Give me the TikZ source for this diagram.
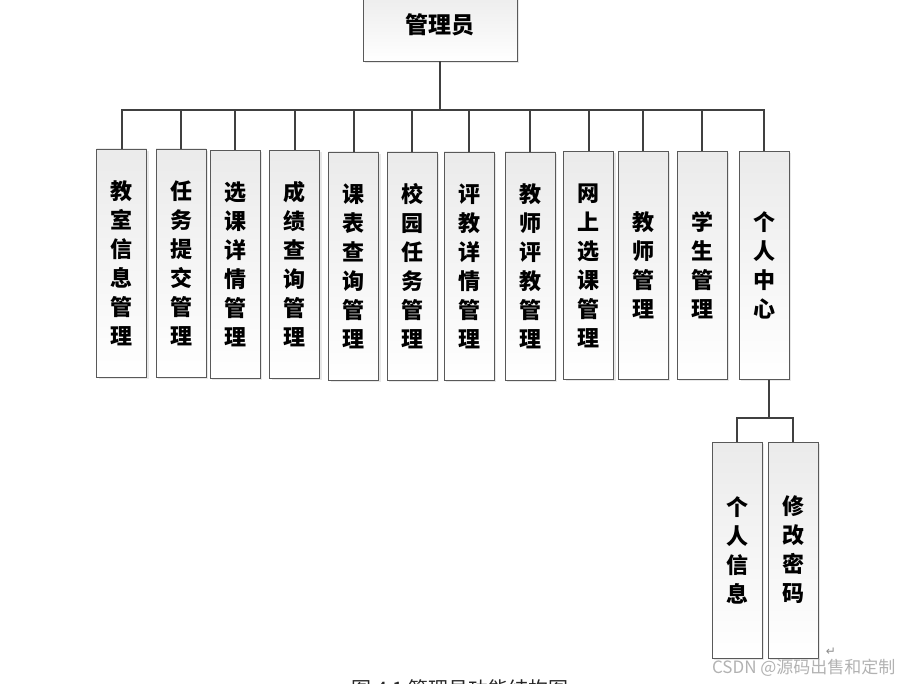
\documentclass[tikz,border=0pt]{standalone}
\usepackage{fontspec}
\newfontfamily\cjk{Noto Sans CJK SC}
\newfontfamily\symfont{DejaVu Sans}
\usetikzlibrary{shadows}

\begin{document}
\begin{tikzpicture}[
        x=1pt, y=-1pt,
        funcbox/.style={rectangle, draw=black!65, line width=0.8pt,
            top color=black!8, bottom color=white,
            drop shadow={shadow xshift=2pt, shadow yshift=-2pt, fill=black!18},
            minimum width=50pt, minimum height=228pt, inner sep=0pt,
            align=center, font=\cjk\bfseries\fontsize{22}{29}\selectfont},
        link/.style={draw=black!75, line width=2pt},
        ]
        \useasboundingbox (0,0) rectangle (902,684);

        % Root
        \node[funcbox, minimum width=154pt, minimum height=72pt,
            font=\cjk\bfseries\fontsize{23}{29}\selectfont] (admin) at (440,25) {管理员};

        % Functions
        \node[funcbox] (c1) at (121.5,263) {教\\室\\信\\息\\管\\理};
        \node[funcbox] (c2) at (181,263) {任\\务\\提\\交\\管\\理};
        \node[funcbox] (c3) at (235,264.5) {选\\课\\详\\情\\管\\理};
        \node[funcbox] (c4) at (294.5,264.5) {成\\绩\\查\\询\\管\\理};
        \node[funcbox] (c5) at (353.5,266) {课\\表\\查\\询\\管\\理};
        \node[funcbox] (c6) at (412,266) {校\\园\\任\\务\\管\\理};
        \node[funcbox] (c7) at (469,266) {评\\教\\详\\情\\管\\理};
        \node[funcbox] (c8) at (530,266) {教\\师\\评\\教\\管\\理};
        \node[funcbox] (c9) at (588.5,265.5) {网\\上\\选\\课\\管\\理};
        \node[funcbox] (c10) at (643,265.5) {教\\师\\管\\理};
        \node[funcbox] (c11) at (702,265.5) {学\\生\\管\\理};
        \node[funcbox] (c12) at (764,265.5) {个\\人\\中\\心};

        % Personal centre
        \node[funcbox, minimum height=216pt] (p1) at (737,550) {个\\人\\信\\息};
        \node[funcbox, minimum height=216pt] (p2) at (793,550) {修\\改\\密\\码};

        % Lines
        \draw[link] (admin.south) -- ++(0,49) coordinate (bus);
        \foreach \i in {1,...,12}
            \draw[link] (bus) -| (c\i.north);
        \draw[link] ([xshift=5pt]c12.south) -- ++(0,38) coordinate (subbus);
        \draw[link] (subbus) -| (p1.north);
        \draw[link] (subbus) -| (p2.north);

        % Caption and marks
        \node[font=\cjk\fontsize{20}{22}\selectfont, text=black!85] (caption) at (466,689) {图 4.1 管理员功能结构图{\symfont\fontsize{14}{14}\selectfont ↵}};
        \node[font=\symfont\fontsize{12}{12}\selectfont, text=black!45] (mark) at (831,652) {↵};
        \node[font=\cjk\fontsize{17}{17}\selectfont, text=black!30, anchor=east] (wm) at (899,668) {CSDN @源码出售和定制};

    \end{tikzpicture}
\end{document}
